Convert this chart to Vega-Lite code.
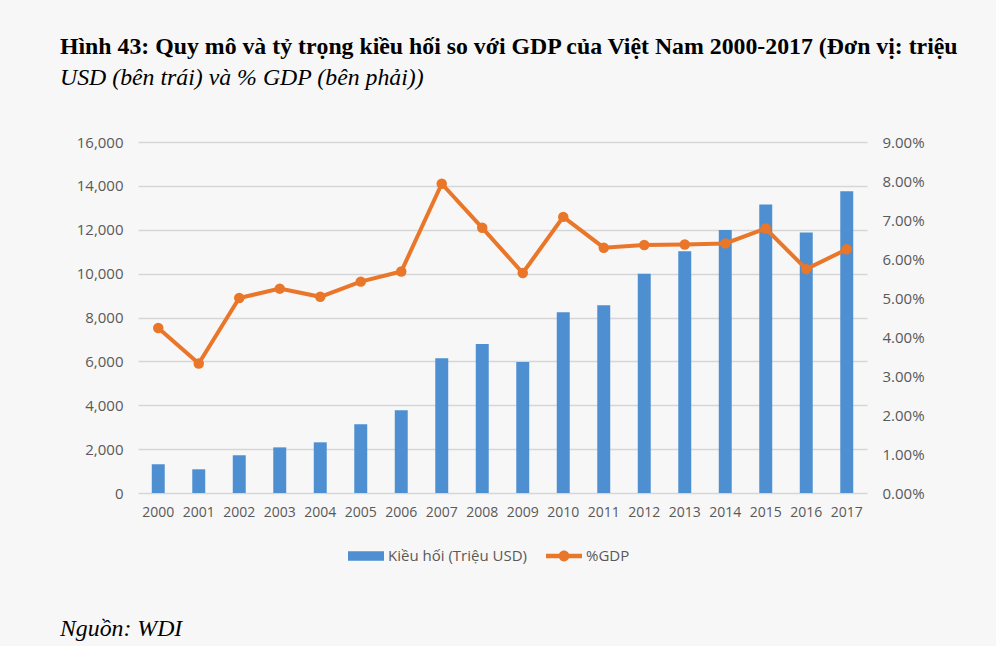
{
  "$schema": "https://vega.github.io/schema/vega-lite/v6.json",
  "background": "#f7f7f7",
  "padding": {"left": 60, "top": 35, "right": 37, "bottom": 12},
  "bounds": "flush",
  "spacing": 115,
  "title": {
    "text": "Hình 43: Quy mô và tỷ trọng kiều hối so với GDP của Việt Nam 2000-2017 (Đơn vị: triệu",
    "subtitle": "USD (bên trái) và % GDP (bên phải))",
    "anchor": "start", "frame": "bounds",
    "font": "Liberation Serif", "fontSize": 23.8, "fontWeight": "bold", "color": "#000000",
    "subtitleFont": "Liberation Serif", "subtitleFontSize": 23.8, "subtitleFontStyle": "italic",
    "subtitleColor": "#000000", "subtitlePadding": 7, "offset": 45
  },
  "data": {"values": [
    {"year": "2000", "remit": 1310, "gdp": 0.0423},
    {"year": "2001", "remit": 1080, "gdp": 0.0332},
    {"year": "2002", "remit": 1720, "gdp": 0.0500},
    {"year": "2003", "remit": 2080, "gdp": 0.0524},
    {"year": "2004", "remit": 2310, "gdp": 0.0503},
    {"year": "2005", "remit": 3130, "gdp": 0.0542},
    {"year": "2006", "remit": 3770, "gdp": 0.0568},
    {"year": "2007", "remit": 6140, "gdp": 0.0793},
    {"year": "2008", "remit": 6790, "gdp": 0.0680},
    {"year": "2009", "remit": 5970, "gdp": 0.0564},
    {"year": "2010", "remit": 8240, "gdp": 0.0708},
    {"year": "2011", "remit": 8560, "gdp": 0.0629},
    {"year": "2012", "remit": 9990, "gdp": 0.0636},
    {"year": "2013", "remit": 11020, "gdp": 0.0637},
    {"year": "2014", "remit": 11990, "gdp": 0.0640},
    {"year": "2015", "remit": 13150, "gdp": 0.0678},
    {"year": "2016", "remit": 11880, "gdp": 0.0574},
    {"year": "2017", "remit": 13750, "gdp": 0.0625}
  ]},
  "vconcat": [
    {
      "width": 729,
      "height": 351,
      "encoding": {
        "x": {
          "field": "year", "type": "ordinal",
          "scale": {"paddingInner": 0.68, "paddingOuter": 0.34},
          "axis": {
            "title": null, "labelAngle": 0, "ticks": false, "domain": false, "grid": false,
            "labelPadding": 12, "labelOverlap": false, "labelFont": "Open Sans",
            "labelFontSize": 14, "labelColor": "#595959"
          }
        }
      },
      "layer": [
        {
          "mark": {"type": "bar"},
          "encoding": {
            "y": {
              "field": "remit", "type": "quantitative",
              "scale": {"domain": [0, 16000], "nice": false},
              "axis": {
                "title": null, "values": [0, 2000, 4000, 6000, 8000, 10000, 12000, 14000, 16000],
                "format": ",d", "ticks": false, "domain": false, "grid": true,
                "gridColor": "#d6d6d6", "gridWidth": 1.5, "labelPadding": 15,
                "labelFont": "Open Sans", "labelFontSize": 15, "labelColor": "#595959"
              }
            },
            "color": {
              "datum": "Kiều hối (Triệu USD)", "type": "nominal",
              "scale": {"domain": ["Kiều hối (Triệu USD)", "%GDP"], "range": ["#4d8fd1", "#ea7629"]},
              "legend": {
                "title": null, "orient": "none", "direction": "horizontal",
                "legendX": 210, "legendY": 396,
                "symbolSize": 1296, "symbolStrokeWidth": 0, "labelOffset": 4, "columnPadding": 19,
                "labelFont": "Open Sans", "labelFontSize": 15, "labelColor": "#595959",
                "encode": {
                  "symbols": {
                    "update": {
                      "shape": {"signal": "datum.value === '%GDP' ? 'M-1,-0.12H1V0.12H-1Z M-0.3,0A0.3,0.3 0 1,1 0.3,0A0.3,0.3 0 1,1 -0.3,0Z' : 'M-1,-0.27H1V0.27H-1Z'"},
                      "fill": {"scale": "color", "field": "value"},
                      "opacity": {"value": 1},
                      "strokeWidth": {"value": 0}
                    }
                  }
                }
              }
            }
          }
        },
        {
          "mark": {"type": "line", "strokeWidth": 4, "point": {"filled": true, "size": 110}},
          "encoding": {
            "y": {
              "field": "gdp", "type": "quantitative",
              "scale": {"domain": [0, 0.09], "nice": false},
              "axis": {
                "title": null, "orient": "right",
                "values": [0, 0.01, 0.02, 0.03, 0.04, 0.05, 0.06, 0.07, 0.08, 0.09],
                "format": ".2%", "ticks": false, "domain": false, "grid": false, "labelPadding": 15,
                "labelFont": "Open Sans", "labelFontSize": 15, "labelColor": "#595959"
              }
            },
            "color": {"datum": "%GDP", "type": "nominal"}
          }
        }
      ],
      "resolve": {"scale": {"y": "independent"}}
    },
    {
      "width": 729,
      "height": 1,
      "data": {"values": [{"note": "Nguồn: WDI"}]},
      "mark": {"type": "rule", "opacity": 0},
      "encoding": {},
      "title": {
        "text": "Nguồn: WDI", "orient": "bottom", "anchor": "start", "frame": "group", "dx": -78,
        "font": "Liberation Serif", "fontSize": 23.8, "fontStyle": "italic", "fontWeight": "normal",
        "color": "#000000", "offset": 8
      }
    }
  ],
  "config": {
    "view": {"stroke": null}
  }
}
